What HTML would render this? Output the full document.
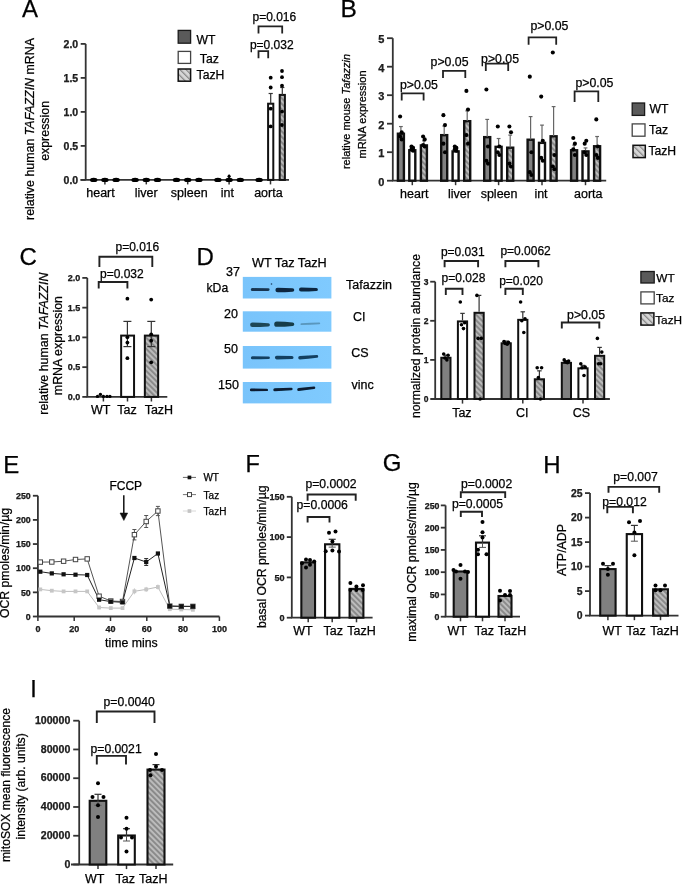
<!DOCTYPE html>
<html><head><meta charset="utf-8"><style>
html,body{margin:0;padding:0;background:#fff;}
svg{display:block;font-family:"Liberation Sans", sans-serif;filter:blur(0.3px);}
text{stroke:#000;stroke-width:0.25px;}
</style></head><body>
<svg width="685" height="884" viewBox="0 0 685 884">
<defs>
<pattern id="hatch" patternUnits="userSpaceOnUse" width="3.9" height="3.9" patternTransform="rotate(-45)">
<rect width="3.9" height="3.9" fill="#bdbdbd"/><rect width="2.0" height="3.9" fill="#8a8a8a"/>
</pattern>
<pattern id="hatchL" patternUnits="userSpaceOnUse" width="4.3" height="4.3" patternTransform="rotate(-45)">
<rect width="4.3" height="4.3" fill="#d6d6d6"/><rect width="1.3" height="4.3" fill="#8c8c8c"/>
</pattern>
<linearGradient id="blot" x1="0" y1="0" x2="1" y2="0">
<stop offset="0" stop-color="#79c4fb"/><stop offset="1" stop-color="#7fcafe"/>
</linearGradient>
<filter id="blur" x="-20%" y="-100%" width="140%" height="300%"><feGaussianBlur stdDeviation="0.7"/></filter>
</defs>
<rect width="685" height="884" fill="#fff"/>
<text x="22.00" y="17.30" font-size="24" text-anchor="start" fill="#000">A</text>
<text transform="translate(34.2 129) rotate(-90)" font-size="12.4" text-anchor="middle">relative human <tspan font-style="italic">TAFAZZIN</tspan> mRNA</text>
<text transform="translate(49 130.9) rotate(-90)" font-size="12.4" text-anchor="middle">expression</text>
<line x1="85.70" y1="43.90" x2="85.70" y2="179.90" stroke="#333" stroke-width="1.8"/>
<line x1="80.70" y1="43.90" x2="85.70" y2="43.90" stroke="#333" stroke-width="1.8"/>
<text x="78.20" y="47.70" font-size="10.5" font-weight="bold" text-anchor="end" fill="#222">2.0</text>
<line x1="80.70" y1="77.90" x2="85.70" y2="77.90" stroke="#333" stroke-width="1.8"/>
<text x="78.20" y="81.70" font-size="10.5" font-weight="bold" text-anchor="end" fill="#222">1.5</text>
<line x1="80.70" y1="111.90" x2="85.70" y2="111.90" stroke="#333" stroke-width="1.8"/>
<text x="78.20" y="115.70" font-size="10.5" font-weight="bold" text-anchor="end" fill="#222">1.0</text>
<line x1="80.70" y1="145.90" x2="85.70" y2="145.90" stroke="#333" stroke-width="1.8"/>
<text x="78.20" y="149.70" font-size="10.5" font-weight="bold" text-anchor="end" fill="#222">0.5</text>
<line x1="80.70" y1="179.90" x2="85.70" y2="179.90" stroke="#333" stroke-width="1.8"/>
<text x="78.20" y="183.70" font-size="10.5" font-weight="bold" text-anchor="end" fill="#222">0.0</text>
<line x1="80.50" y1="179.90" x2="289.00" y2="179.90" stroke="#333" stroke-width="1.8"/>
<line x1="104.90" y1="179.90" x2="104.90" y2="184.40" stroke="#333" stroke-width="1.5"/>
<text x="100.50" y="196.60" font-size="12.5" text-anchor="middle" fill="#000">heart</text>
<line x1="146.30" y1="179.90" x2="146.30" y2="184.40" stroke="#333" stroke-width="1.5"/>
<text x="146.20" y="196.60" font-size="12.5" text-anchor="middle" fill="#000">liver</text>
<line x1="187.70" y1="179.90" x2="187.70" y2="184.40" stroke="#333" stroke-width="1.5"/>
<text x="189.20" y="196.60" font-size="12.5" text-anchor="middle" fill="#000">spleen</text>
<line x1="229.10" y1="179.90" x2="229.10" y2="184.40" stroke="#333" stroke-width="1.5"/>
<text x="227.40" y="196.60" font-size="12.5" text-anchor="middle" fill="#000">int</text>
<line x1="270.50" y1="179.90" x2="270.50" y2="184.40" stroke="#333" stroke-width="1.5"/>
<text x="268.40" y="196.60" font-size="12.5" text-anchor="middle" fill="#000">aorta</text>
<ellipse cx="93.70" cy="179.90" rx="3.7" ry="2.2" fill="#000"/>
<ellipse cx="104.90" cy="179.90" rx="3.7" ry="2.2" fill="#000"/>
<ellipse cx="116.10" cy="179.90" rx="3.7" ry="2.2" fill="#000"/>
<ellipse cx="135.10" cy="179.90" rx="3.7" ry="2.2" fill="#000"/>
<ellipse cx="146.30" cy="179.90" rx="3.7" ry="2.2" fill="#000"/>
<ellipse cx="157.50" cy="179.90" rx="3.7" ry="2.2" fill="#000"/>
<ellipse cx="176.50" cy="179.90" rx="3.7" ry="2.2" fill="#000"/>
<ellipse cx="187.70" cy="179.90" rx="3.7" ry="2.2" fill="#000"/>
<ellipse cx="198.90" cy="179.90" rx="3.7" ry="2.2" fill="#000"/>
<ellipse cx="217.90" cy="179.90" rx="3.7" ry="2.2" fill="#000"/>
<ellipse cx="229.10" cy="179.90" rx="3.7" ry="2.2" fill="#000"/>
<ellipse cx="240.30" cy="179.90" rx="3.7" ry="2.2" fill="#000"/>
<ellipse cx="259.10" cy="179.90" rx="3.7" ry="2.2" fill="#000"/>
<circle cx="229.10" cy="176.30" r="1.6" fill="#000"/>
<line x1="229.10" y1="174.50" x2="229.10" y2="180.00" stroke="#000" stroke-width="1.2"/>
<rect x="268.10" y="103.70" width="5.20" height="76.20" fill="#ffffff" stroke="#111" stroke-width="2.0"/>
<rect x="279.70" y="94.90" width="5.20" height="85.00" fill="url(#hatch)" stroke="#111" stroke-width="2.0"/>
<line x1="270.70" y1="93.50" x2="270.70" y2="103.50" stroke="#333" stroke-width="1.2"/>
<line x1="268.60" y1="93.50" x2="272.80" y2="93.50" stroke="#333" stroke-width="1.2"/>
<line x1="282.30" y1="87.50" x2="282.30" y2="94.70" stroke="#333" stroke-width="1.2"/>
<line x1="280.20" y1="87.50" x2="284.40" y2="87.50" stroke="#333" stroke-width="1.2"/>
<circle cx="270.70" cy="77.70" r="1.9" fill="#000"/>
<circle cx="270.70" cy="87.50" r="1.9" fill="#000"/>
<circle cx="270.70" cy="108.70" r="1.9" fill="#000"/>
<circle cx="270.70" cy="126.40" r="1.9" fill="#000"/>
<circle cx="282.00" cy="71.00" r="1.9" fill="#000"/>
<circle cx="282.00" cy="77.20" r="1.9" fill="#000"/>
<circle cx="282.00" cy="85.70" r="1.9" fill="#000"/>
<circle cx="282.00" cy="111.60" r="1.9" fill="#000"/>
<circle cx="282.00" cy="125.00" r="1.9" fill="#000"/>
<path d="M258.50,58.30 L258.50,51.20 L268.20,51.20 L268.20,58.30" stroke="#222" stroke-width="1.8" fill="none"/>
<text x="249.90" y="48.90" font-size="12" text-anchor="start" fill="#000">p=0.032</text>
<path d="M258.50,33.60 L258.50,26.30 L282.20,26.30 L282.20,33.60" stroke="#222" stroke-width="1.8" fill="none"/>
<text x="252.50" y="20.50" font-size="12" text-anchor="start" fill="#000">p=0.016</text>
<rect x="178.20" y="30.40" width="12.40" height="12.80" fill="#5a5a5a" stroke="#1a1a1a" stroke-width="1.3"/>
<rect x="178.20" y="51.40" width="12.40" height="12.00" fill="#fff" stroke="#444" stroke-width="1.3"/>
<rect x="178.20" y="69.00" width="12.40" height="12.20" fill="url(#hatchL)" stroke="#111" stroke-width="1.5"/>
<text x="196.60" y="44.10" font-size="12.2" text-anchor="start" fill="#000">WT</text>
<text x="199.80" y="63.00" font-size="12.2" text-anchor="start" fill="#000">Taz</text>
<text x="196.60" y="78.80" font-size="12.2" text-anchor="start" fill="#000">TazH</text>
<text x="340.60" y="17.00" font-size="24.5" text-anchor="start" fill="#000">B</text>
<text transform="translate(350.3 111.5) rotate(-90)" font-size="11" text-anchor="middle">relative mouse <tspan font-style="italic">Tafazzin</tspan></text>
<text transform="translate(365.5 114.5) rotate(-90)" font-size="11" text-anchor="middle">mRNA expression</text>
<line x1="392.80" y1="38.20" x2="392.80" y2="180.70" stroke="#333" stroke-width="1.8"/>
<line x1="387.00" y1="38.20" x2="392.80" y2="38.20" stroke="#333" stroke-width="1.8"/>
<text x="384.40" y="43.10" font-size="11" font-weight="bold" text-anchor="end" fill="#222">5</text>
<line x1="387.00" y1="66.70" x2="392.80" y2="66.70" stroke="#333" stroke-width="1.8"/>
<text x="384.40" y="71.60" font-size="11" font-weight="bold" text-anchor="end" fill="#222">4</text>
<line x1="387.00" y1="95.20" x2="392.80" y2="95.20" stroke="#333" stroke-width="1.8"/>
<text x="384.40" y="100.10" font-size="11" font-weight="bold" text-anchor="end" fill="#222">3</text>
<line x1="387.00" y1="123.70" x2="392.80" y2="123.70" stroke="#333" stroke-width="1.8"/>
<text x="384.40" y="128.60" font-size="11" font-weight="bold" text-anchor="end" fill="#222">2</text>
<line x1="387.00" y1="152.20" x2="392.80" y2="152.20" stroke="#333" stroke-width="1.8"/>
<text x="384.40" y="157.10" font-size="11" font-weight="bold" text-anchor="end" fill="#222">1</text>
<line x1="387.00" y1="180.70" x2="392.80" y2="180.70" stroke="#333" stroke-width="1.8"/>
<text x="384.40" y="185.60" font-size="11" font-weight="bold" text-anchor="end" fill="#222">0</text>
<line x1="392.00" y1="180.70" x2="606.20" y2="180.70" stroke="#333" stroke-width="1.8"/>
<line x1="412.30" y1="180.70" x2="412.30" y2="185.20" stroke="#333" stroke-width="1.5"/>
<text x="414.30" y="198.00" font-size="12.5" text-anchor="middle" fill="#000">heart</text>
<line x1="455.60" y1="180.70" x2="455.60" y2="185.20" stroke="#333" stroke-width="1.5"/>
<text x="459.50" y="198.00" font-size="12.5" text-anchor="middle" fill="#000">liver</text>
<line x1="498.60" y1="180.70" x2="498.60" y2="185.20" stroke="#333" stroke-width="1.5"/>
<text x="499.10" y="198.00" font-size="12.5" text-anchor="middle" fill="#000">spleen</text>
<line x1="542.00" y1="180.70" x2="542.00" y2="185.20" stroke="#333" stroke-width="1.5"/>
<text x="541.00" y="198.00" font-size="12.5" text-anchor="middle" fill="#000">int</text>
<line x1="585.50" y1="180.70" x2="585.50" y2="185.20" stroke="#333" stroke-width="1.5"/>
<text x="588.30" y="198.00" font-size="12.5" text-anchor="middle" fill="#000">aorta</text>
<rect x="397.90" y="133.73" width="6.00" height="46.97" fill="#808080" stroke="#111" stroke-width="2.4"/>
<line x1="400.90" y1="126.55" x2="400.90" y2="133.53" stroke="#666" stroke-width="1.2"/>
<line x1="399.00" y1="126.55" x2="402.80" y2="126.55" stroke="#666" stroke-width="1.2"/>
<circle cx="400.10" cy="116.57" r="2.05" fill="#000"/>
<circle cx="401.70" cy="132.25" r="2.05" fill="#000"/>
<circle cx="400.10" cy="136.52" r="2.05" fill="#000"/>
<circle cx="401.70" cy="139.38" r="2.05" fill="#000"/>
<rect x="409.30" y="150.26" width="6.00" height="30.44" fill="#ffffff" stroke="#111" stroke-width="2.4"/>
<line x1="412.30" y1="147.35" x2="412.30" y2="150.06" stroke="#666" stroke-width="1.2"/>
<line x1="410.40" y1="147.35" x2="414.20" y2="147.35" stroke="#666" stroke-width="1.2"/>
<circle cx="411.50" cy="146.50" r="2.05" fill="#000"/>
<circle cx="413.10" cy="147.92" r="2.05" fill="#000"/>
<circle cx="411.50" cy="149.35" r="2.05" fill="#000"/>
<circle cx="413.10" cy="150.77" r="2.05" fill="#000"/>
<rect x="420.90" y="145.42" width="6.00" height="35.28" fill="url(#hatch)" stroke="#111" stroke-width="2.4"/>
<line x1="423.90" y1="140.80" x2="423.90" y2="145.22" stroke="#666" stroke-width="1.2"/>
<line x1="422.00" y1="140.80" x2="425.80" y2="140.80" stroke="#666" stroke-width="1.2"/>
<circle cx="423.10" cy="136.52" r="2.05" fill="#000"/>
<circle cx="424.70" cy="139.38" r="2.05" fill="#000"/>
<circle cx="423.10" cy="145.07" r="2.05" fill="#000"/>
<circle cx="424.70" cy="146.50" r="2.05" fill="#000"/>
<rect x="441.20" y="135.16" width="6.00" height="45.54" fill="#808080" stroke="#111" stroke-width="2.4"/>
<line x1="444.20" y1="125.98" x2="444.20" y2="134.96" stroke="#666" stroke-width="1.2"/>
<line x1="442.30" y1="125.98" x2="446.10" y2="125.98" stroke="#666" stroke-width="1.2"/>
<circle cx="443.40" cy="115.15" r="2.05" fill="#000"/>
<circle cx="445.00" cy="125.12" r="2.05" fill="#000"/>
<circle cx="443.40" cy="143.65" r="2.05" fill="#000"/>
<circle cx="445.00" cy="152.20" r="2.05" fill="#000"/>
<rect x="452.60" y="151.40" width="6.00" height="29.30" fill="#ffffff" stroke="#111" stroke-width="2.4"/>
<line x1="455.60" y1="148.78" x2="455.60" y2="151.20" stroke="#666" stroke-width="1.2"/>
<line x1="453.70" y1="148.78" x2="457.50" y2="148.78" stroke="#666" stroke-width="1.2"/>
<circle cx="454.80" cy="146.50" r="2.05" fill="#000"/>
<circle cx="456.40" cy="147.92" r="2.05" fill="#000"/>
<circle cx="454.80" cy="149.35" r="2.05" fill="#000"/>
<circle cx="456.40" cy="150.77" r="2.05" fill="#000"/>
<rect x="464.20" y="121.19" width="6.00" height="59.50" fill="url(#hatch)" stroke="#111" stroke-width="2.4"/>
<line x1="467.20" y1="110.87" x2="467.20" y2="120.99" stroke="#666" stroke-width="1.2"/>
<line x1="465.30" y1="110.87" x2="469.10" y2="110.87" stroke="#666" stroke-width="1.2"/>
<circle cx="466.40" cy="90.92" r="2.05" fill="#000"/>
<circle cx="468.00" cy="109.45" r="2.05" fill="#000"/>
<circle cx="466.40" cy="135.10" r="2.05" fill="#000"/>
<circle cx="468.00" cy="143.65" r="2.05" fill="#000"/>
<rect x="484.20" y="137.15" width="6.00" height="43.55" fill="#808080" stroke="#111" stroke-width="2.4"/>
<line x1="487.20" y1="119.42" x2="487.20" y2="136.95" stroke="#666" stroke-width="1.2"/>
<line x1="485.30" y1="119.42" x2="489.10" y2="119.42" stroke="#666" stroke-width="1.2"/>
<circle cx="486.40" cy="89.50" r="2.05" fill="#000"/>
<circle cx="488.00" cy="146.50" r="2.05" fill="#000"/>
<circle cx="486.40" cy="160.75" r="2.05" fill="#000"/>
<circle cx="488.00" cy="163.60" r="2.05" fill="#000"/>
<rect x="495.60" y="146.84" width="6.00" height="33.86" fill="#ffffff" stroke="#111" stroke-width="2.4"/>
<line x1="498.60" y1="138.52" x2="498.60" y2="146.64" stroke="#666" stroke-width="1.2"/>
<line x1="496.70" y1="138.52" x2="500.50" y2="138.52" stroke="#666" stroke-width="1.2"/>
<circle cx="497.80" cy="126.55" r="2.05" fill="#000"/>
<circle cx="499.40" cy="146.50" r="2.05" fill="#000"/>
<circle cx="497.80" cy="152.20" r="2.05" fill="#000"/>
<circle cx="499.40" cy="155.05" r="2.05" fill="#000"/>
<rect x="507.20" y="147.70" width="6.00" height="33.00" fill="url(#hatch)" stroke="#111" stroke-width="2.4"/>
<line x1="510.20" y1="135.10" x2="510.20" y2="147.50" stroke="#666" stroke-width="1.2"/>
<line x1="508.30" y1="135.10" x2="512.10" y2="135.10" stroke="#666" stroke-width="1.2"/>
<circle cx="509.40" cy="126.55" r="2.05" fill="#000"/>
<circle cx="511.00" cy="132.25" r="2.05" fill="#000"/>
<circle cx="509.40" cy="163.60" r="2.05" fill="#000"/>
<circle cx="511.00" cy="166.45" r="2.05" fill="#000"/>
<rect x="527.60" y="139.72" width="6.00" height="40.98" fill="#808080" stroke="#111" stroke-width="2.4"/>
<line x1="530.60" y1="116.57" x2="530.60" y2="139.52" stroke="#666" stroke-width="1.2"/>
<line x1="528.70" y1="116.57" x2="532.50" y2="116.57" stroke="#666" stroke-width="1.2"/>
<circle cx="529.80" cy="76.67" r="2.05" fill="#000"/>
<circle cx="531.40" cy="152.20" r="2.05" fill="#000"/>
<circle cx="529.80" cy="172.15" r="2.05" fill="#000"/>
<circle cx="531.40" cy="175.00" r="2.05" fill="#000"/>
<rect x="539.00" y="142.85" width="6.00" height="37.85" fill="#ffffff" stroke="#111" stroke-width="2.4"/>
<line x1="542.00" y1="125.12" x2="542.00" y2="142.65" stroke="#666" stroke-width="1.2"/>
<line x1="540.10" y1="125.12" x2="543.90" y2="125.12" stroke="#666" stroke-width="1.2"/>
<circle cx="541.20" cy="96.62" r="2.05" fill="#000"/>
<circle cx="542.80" cy="140.80" r="2.05" fill="#000"/>
<circle cx="541.20" cy="157.90" r="2.05" fill="#000"/>
<circle cx="542.80" cy="160.75" r="2.05" fill="#000"/>
<rect x="550.60" y="136.30" width="6.00" height="44.40" fill="url(#hatch)" stroke="#111" stroke-width="2.4"/>
<line x1="553.60" y1="106.60" x2="553.60" y2="136.10" stroke="#666" stroke-width="1.2"/>
<line x1="551.70" y1="106.60" x2="555.50" y2="106.60" stroke="#666" stroke-width="1.2"/>
<circle cx="552.80" cy="52.45" r="2.05" fill="#000"/>
<circle cx="554.40" cy="155.05" r="2.05" fill="#000"/>
<circle cx="552.80" cy="166.45" r="2.05" fill="#000"/>
<circle cx="554.40" cy="169.30" r="2.05" fill="#000"/>
<rect x="571.10" y="150.26" width="6.00" height="30.44" fill="#808080" stroke="#111" stroke-width="2.4"/>
<line x1="574.10" y1="145.07" x2="574.10" y2="150.06" stroke="#666" stroke-width="1.2"/>
<line x1="572.20" y1="145.07" x2="576.00" y2="145.07" stroke="#666" stroke-width="1.2"/>
<circle cx="573.30" cy="137.95" r="2.05" fill="#000"/>
<circle cx="574.90" cy="143.65" r="2.05" fill="#000"/>
<circle cx="573.30" cy="149.35" r="2.05" fill="#000"/>
<circle cx="574.90" cy="155.05" r="2.05" fill="#000"/>
<rect x="582.50" y="151.40" width="6.00" height="29.30" fill="#ffffff" stroke="#111" stroke-width="2.4"/>
<line x1="585.50" y1="147.92" x2="585.50" y2="151.20" stroke="#666" stroke-width="1.2"/>
<line x1="583.60" y1="147.92" x2="587.40" y2="147.92" stroke="#666" stroke-width="1.2"/>
<circle cx="584.70" cy="143.65" r="2.05" fill="#000"/>
<circle cx="586.30" cy="140.80" r="2.05" fill="#000"/>
<circle cx="584.70" cy="152.20" r="2.05" fill="#000"/>
<circle cx="586.30" cy="155.05" r="2.05" fill="#000"/>
<rect x="594.10" y="146.27" width="6.00" height="34.43" fill="url(#hatch)" stroke="#111" stroke-width="2.4"/>
<line x1="597.10" y1="136.52" x2="597.10" y2="146.07" stroke="#666" stroke-width="1.2"/>
<line x1="595.20" y1="136.52" x2="599.00" y2="136.52" stroke="#666" stroke-width="1.2"/>
<circle cx="596.30" cy="119.42" r="2.05" fill="#000"/>
<circle cx="597.90" cy="146.50" r="2.05" fill="#000"/>
<circle cx="596.30" cy="155.05" r="2.05" fill="#000"/>
<circle cx="597.90" cy="157.90" r="2.05" fill="#000"/>
<path d="M401.70,100.60 L401.70,93.30 L423.60,93.30 L423.60,100.60" stroke="#222" stroke-width="1.8" fill="none"/>
<text x="399.90" y="89.30" font-size="12.3" text-anchor="start" fill="#000">p&gt;0.05</text>
<path d="M443.00,78.00 L443.00,70.90 L465.30,70.90 L465.30,78.00" stroke="#222" stroke-width="1.8" fill="none"/>
<text x="430.60" y="65.70" font-size="12.3" text-anchor="start" fill="#000">p&gt;0.05</text>
<path d="M485.80,70.90 L485.80,63.60 L508.20,63.60 L508.20,70.90" stroke="#222" stroke-width="1.8" fill="none"/>
<text x="481.10" y="63.10" font-size="12.3" text-anchor="start" fill="#000">p&gt;0.05</text>
<path d="M528.60,44.70 L528.60,37.30 L556.20,37.30 L556.20,44.70" stroke="#222" stroke-width="1.8" fill="none"/>
<text x="530.50" y="29.70" font-size="12.3" text-anchor="start" fill="#000">p&gt;0.05</text>
<path d="M574.60,102.00 L574.60,91.40 L598.30,91.40 L598.30,102.00" stroke="#222" stroke-width="1.8" fill="none"/>
<text x="575.40" y="86.70" font-size="12.3" text-anchor="start" fill="#000">p&gt;0.05</text>
<rect x="632.20" y="103.00" width="12.40" height="12.40" fill="#5a5a5a" stroke="#1a1a1a" stroke-width="1.3"/>
<rect x="632.20" y="123.90" width="12.80" height="12.30" fill="#fff" stroke="#444" stroke-width="1.3"/>
<rect x="633.00" y="145.30" width="12.30" height="12.30" fill="url(#hatchL)" stroke="#111" stroke-width="1.5"/>
<text x="649.60" y="113.00" font-size="12.2" text-anchor="start" fill="#000">WT</text>
<text x="649.10" y="133.80" font-size="12.2" text-anchor="start" fill="#000">Taz</text>
<text x="648.40" y="154.60" font-size="12.2" text-anchor="start" fill="#000">TazH</text>
<text x="19.50" y="265.00" font-size="24" text-anchor="start" fill="#000">C</text>
<text transform="translate(48.3 343.7) rotate(-90)" font-size="12.4" text-anchor="middle">relative human <tspan font-style="italic">TAFAZZIN</tspan></text>
<text transform="translate(61.9 345.6) rotate(-90)" font-size="12.4" text-anchor="middle">mRNA expression</text>
<line x1="87.30" y1="277.90" x2="87.30" y2="396.90" stroke="#333" stroke-width="1.8"/>
<line x1="82.30" y1="277.90" x2="87.30" y2="277.90" stroke="#333" stroke-width="1.8"/>
<text x="80.30" y="281.20" font-size="9" font-weight="bold" text-anchor="end" fill="#222">2.0</text>
<line x1="82.30" y1="307.65" x2="87.30" y2="307.65" stroke="#333" stroke-width="1.8"/>
<text x="80.30" y="310.95" font-size="9" font-weight="bold" text-anchor="end" fill="#222">1.5</text>
<line x1="82.30" y1="337.40" x2="87.30" y2="337.40" stroke="#333" stroke-width="1.8"/>
<text x="80.30" y="340.70" font-size="9" font-weight="bold" text-anchor="end" fill="#222">1.0</text>
<line x1="82.30" y1="367.15" x2="87.30" y2="367.15" stroke="#333" stroke-width="1.8"/>
<text x="80.30" y="370.45" font-size="9" font-weight="bold" text-anchor="end" fill="#222">0.5</text>
<line x1="82.30" y1="396.90" x2="87.30" y2="396.90" stroke="#333" stroke-width="1.8"/>
<text x="80.30" y="400.20" font-size="9" font-weight="bold" text-anchor="end" fill="#222">0.0</text>
<line x1="86.40" y1="396.90" x2="167.30" y2="396.90" stroke="#333" stroke-width="1.8"/>
<line x1="103.40" y1="396.90" x2="103.40" y2="401.50" stroke="#333" stroke-width="1.5"/>
<line x1="127.50" y1="396.90" x2="127.50" y2="401.50" stroke="#333" stroke-width="1.5"/>
<line x1="151.40" y1="396.90" x2="151.40" y2="401.50" stroke="#333" stroke-width="1.5"/>
<text x="100.60" y="414.40" font-size="12.5" text-anchor="middle" fill="#000">WT</text>
<text x="127.00" y="414.40" font-size="12.5" text-anchor="middle" fill="#000">Taz</text>
<text x="158.90" y="414.40" font-size="12.5" text-anchor="middle" fill="#000">TazH</text>
<rect x="121.15" y="335.60" width="12.90" height="61.30" fill="#ffffff" stroke="#111" stroke-width="2.0"/>
<rect x="144.85" y="335.60" width="13.30" height="61.30" fill="url(#hatch)" stroke="#111" stroke-width="2.0"/>
<line x1="127.40" y1="321.40" x2="127.40" y2="346.60" stroke="#333" stroke-width="1.2"/>
<line x1="123.40" y1="321.40" x2="131.40" y2="321.40" stroke="#333" stroke-width="1.2"/>
<line x1="123.40" y1="346.60" x2="131.40" y2="346.60" stroke="#333" stroke-width="1.2"/>
<line x1="151.30" y1="321.40" x2="151.30" y2="346.60" stroke="#333" stroke-width="1.2"/>
<line x1="147.30" y1="321.40" x2="155.30" y2="321.40" stroke="#333" stroke-width="1.2"/>
<line x1="147.30" y1="346.60" x2="155.30" y2="346.60" stroke="#333" stroke-width="1.2"/>
<circle cx="127.40" cy="298.70" r="1.9" fill="#000"/>
<circle cx="127.40" cy="337.20" r="1.9" fill="#000"/>
<circle cx="127.40" cy="342.60" r="1.9" fill="#000"/>
<circle cx="127.40" cy="358.20" r="1.9" fill="#000"/>
<circle cx="151.20" cy="299.60" r="1.9" fill="#000"/>
<circle cx="151.20" cy="334.30" r="1.9" fill="#000"/>
<circle cx="151.20" cy="340.70" r="1.9" fill="#000"/>
<circle cx="151.20" cy="362.30" r="1.9" fill="#000"/>
<circle cx="97.50" cy="396.40" r="1.7" fill="#000"/>
<circle cx="100.40" cy="394.40" r="1.7" fill="#000"/>
<circle cx="103.40" cy="396.40" r="1.7" fill="#000"/>
<circle cx="107.00" cy="396.40" r="1.7" fill="#000"/>
<circle cx="109.90" cy="396.40" r="1.7" fill="#000"/>
<path d="M98.70,288.50 L98.70,282.00 L127.40,282.00 L127.40,288.50" stroke="#222" stroke-width="1.9" fill="none"/>
<text x="100.00" y="278.00" font-size="12" text-anchor="start" fill="#000">p=0.032</text>
<path d="M99.40,267.00 L99.40,256.80 L152.30,256.80 L152.30,267.00" stroke="#222" stroke-width="1.9" fill="none"/>
<text x="115.50" y="251.00" font-size="12" text-anchor="start" fill="#000">p=0.016</text>
<text x="196.40" y="265.00" font-size="24" text-anchor="start" fill="#000">D</text>
<text x="252.00" y="267.40" font-size="12.7" text-anchor="start" fill="#000">WT Taz TazH</text>
<text x="226.00" y="276.00" font-size="12.5" text-anchor="start" fill="#000">37</text>
<text x="206.50" y="292.20" font-size="12.2" text-anchor="start" fill="#000">kDa</text>
<text x="224.00" y="318.30" font-size="12.5" text-anchor="start" fill="#000">20</text>
<text x="224.00" y="352.60" font-size="12.5" text-anchor="start" fill="#000">50</text>
<text x="218.00" y="389.00" font-size="12.5" text-anchor="start" fill="#000">150</text>
<text x="346.00" y="288.90" font-size="12.5" text-anchor="start" fill="#000">Tafazzin</text>
<text x="353.00" y="321.00" font-size="12.5" text-anchor="start" fill="#000">CI</text>
<text x="351.30" y="357.20" font-size="12.5" text-anchor="start" fill="#000">CS</text>
<text x="351.60" y="389.00" font-size="12.5" text-anchor="start" fill="#000">vinc</text>
<rect x="242.8" y="276.9" width="88.6" height="21.6" fill="url(#blot)"/>
<rect x="242.8" y="311.3" width="88.6" height="20.4" fill="url(#blot)"/>
<rect x="242.8" y="346.0" width="88.6" height="22.6" fill="url(#blot)"/>
<rect x="242.8" y="382.0" width="88.6" height="21.4" fill="url(#blot)"/>
<path d="M252.30,288.10 Q260.30,288.10 268.30,288.30 A1.30,1.30 0 0 1 268.30,290.90 Q260.30,291.10 252.30,291.10 A1.50,1.50 0 0 1 252.30,288.10 Z" fill="#0b2840" opacity="0.9" filter="url(#blur)"/>
<path d="M277.70,287.70 Q285.10,287.70 292.50,288.20 A1.80,1.80 0 0 1 292.50,291.80 Q285.10,292.30 277.70,292.30 A2.30,2.30 0 0 1 277.70,287.70 Z" fill="#0b2840" opacity="1.0" filter="url(#blur)"/>
<path d="M301.00,287.60 Q308.70,287.60 316.40,288.10 A1.50,1.50 0 0 1 316.40,291.10 Q308.70,291.60 301.00,291.60 A2.00,2.00 0 0 1 301.00,287.60 Z" fill="#0b2840" opacity="1.0" filter="url(#blur)"/>
<circle cx="271.50" cy="284.00" r="0.8" fill="#1b3a5a"/>
<path d="M252.40,322.50 Q260.35,322.50 268.30,323.20 A1.60,1.60 0 0 1 268.30,326.40 Q260.35,327.10 252.40,327.10 A2.30,2.30 0 0 1 252.40,322.50 Z" fill="#183c48" opacity="0.92" filter="url(#blur)"/>
<path d="M276.80,321.60 Q284.70,321.60 292.60,322.50 A1.70,1.70 0 0 1 292.60,325.90 Q284.70,326.80 276.80,326.80 A2.60,2.60 0 0 1 276.80,321.60 Z" fill="#183c48" opacity="1.0" filter="url(#blur)"/>
<path d="M301.40,323.30 Q310.40,322.90 319.40,322.60 A0.80,0.80 0 0 1 319.40,324.20 Q310.40,324.70 301.40,325.10 A0.90,0.90 0 0 1 301.40,323.30 Z" fill="#183c48" opacity="0.35" filter="url(#blur)"/>
<path d="M252.40,356.30 Q260.50,356.30 268.60,356.50 A1.30,1.30 0 0 1 268.60,359.10 Q260.50,359.30 252.40,359.30 A1.50,1.50 0 0 1 252.40,356.30 Z" fill="#0f3858" opacity="0.95" filter="url(#blur)"/>
<path d="M276.70,355.80 Q284.35,355.80 292.00,356.10 A1.50,1.50 0 0 1 292.00,359.10 Q284.35,359.40 276.70,359.40 A1.80,1.80 0 0 1 276.70,355.80 Z" fill="#0f3858" opacity="0.95" filter="url(#blur)"/>
<path d="M299.90,356.10 Q308.40,355.40 316.90,355.10 A1.30,1.30 0 0 1 316.90,357.70 Q308.40,358.80 299.90,359.50 A1.70,1.70 0 0 1 299.90,356.10 Z" fill="#0f3858" opacity="0.95" filter="url(#blur)"/>
<path d="M251.25,388.55 Q259.02,388.55 266.80,388.70 A1.20,1.20 0 0 1 266.80,391.10 Q259.02,391.25 251.25,391.25 A1.35,1.35 0 0 1 251.25,388.55 Z" fill="#081c30" opacity="1.0" filter="url(#blur)"/>
<path d="M274.80,388.30 Q283.05,387.90 291.30,387.70 A1.30,1.30 0 0 1 291.30,390.30 Q283.05,390.90 274.80,391.30 A1.50,1.50 0 0 1 274.80,388.30 Z" fill="#081c30" opacity="1.0" filter="url(#blur)"/>
<path d="M298.70,388.10 Q306.35,387.20 314.00,386.50 A1.30,1.30 0 0 1 314.00,389.10 Q306.35,390.20 298.70,391.10 A1.50,1.50 0 0 1 298.70,388.10 Z" fill="#081c30" opacity="1.0" filter="url(#blur)"/>
<text transform="translate(420.3 336) rotate(-90)" font-size="12.2" text-anchor="middle">normalized protein abundance</text>
<line x1="435.20" y1="281.70" x2="435.20" y2="399.00" stroke="#333" stroke-width="1.8"/>
<line x1="430.20" y1="281.70" x2="435.20" y2="281.70" stroke="#333" stroke-width="1.8"/>
<text x="428.40" y="284.70" font-size="8.5" font-weight="bold" text-anchor="end" fill="#222">3</text>
<line x1="430.20" y1="320.80" x2="435.20" y2="320.80" stroke="#333" stroke-width="1.8"/>
<text x="428.40" y="323.80" font-size="8.5" font-weight="bold" text-anchor="end" fill="#222">2</text>
<line x1="430.20" y1="359.90" x2="435.20" y2="359.90" stroke="#333" stroke-width="1.8"/>
<text x="428.40" y="362.90" font-size="8.5" font-weight="bold" text-anchor="end" fill="#222">1</text>
<line x1="430.20" y1="399.00" x2="435.20" y2="399.00" stroke="#333" stroke-width="1.8"/>
<text x="428.40" y="402.00" font-size="8.5" font-weight="bold" text-anchor="end" fill="#222">0</text>
<line x1="431.00" y1="399.00" x2="609.90" y2="399.00" stroke="#333" stroke-width="1.8"/>
<line x1="462.50" y1="399.00" x2="462.50" y2="403.60" stroke="#333" stroke-width="1.5"/>
<line x1="522.80" y1="399.00" x2="522.80" y2="403.60" stroke="#333" stroke-width="1.5"/>
<line x1="583.00" y1="399.00" x2="583.00" y2="403.60" stroke="#333" stroke-width="1.5"/>
<text x="461.90" y="417.30" font-size="12.5" text-anchor="middle" fill="#000">Taz</text>
<text x="522.20" y="417.30" font-size="12.5" text-anchor="middle" fill="#000">CI</text>
<text x="581.50" y="417.40" font-size="12.5" text-anchor="middle" fill="#000">CS</text>
<rect x="441.30" y="357.77" width="9.20" height="41.23" fill="#808080" stroke="#111" stroke-width="2.0"/>
<line x1="445.90" y1="355.21" x2="445.90" y2="356.77" stroke="#333" stroke-width="1.2"/>
<line x1="443.65" y1="355.21" x2="448.15" y2="355.21" stroke="#333" stroke-width="1.2"/>
<circle cx="443.70" cy="354.04" r="1.8" fill="#000"/>
<circle cx="448.10" cy="355.21" r="1.8" fill="#000"/>
<circle cx="444.90" cy="357.94" r="1.8" fill="#000"/>
<circle cx="446.90" cy="359.90" r="1.8" fill="#000"/>
<rect x="457.90" y="321.41" width="9.20" height="77.59" fill="#ffffff" stroke="#111" stroke-width="2.0"/>
<line x1="462.50" y1="313.37" x2="462.50" y2="320.41" stroke="#333" stroke-width="1.2"/>
<line x1="460.25" y1="313.37" x2="464.75" y2="313.37" stroke="#333" stroke-width="1.2"/>
<circle cx="460.30" cy="302.03" r="1.8" fill="#000"/>
<circle cx="464.70" cy="322.75" r="1.8" fill="#000"/>
<circle cx="461.50" cy="324.71" r="1.8" fill="#000"/>
<circle cx="463.50" cy="328.62" r="1.8" fill="#000"/>
<rect x="474.50" y="312.81" width="9.20" height="86.19" fill="url(#hatch)" stroke="#111" stroke-width="2.0"/>
<line x1="479.10" y1="295.38" x2="479.10" y2="311.81" stroke="#333" stroke-width="1.2"/>
<line x1="476.85" y1="295.38" x2="481.35" y2="295.38" stroke="#333" stroke-width="1.2"/>
<circle cx="476.90" cy="295.38" r="1.8" fill="#000"/>
<circle cx="481.30" cy="338.39" r="1.8" fill="#000"/>
<circle cx="478.10" cy="338.39" r="1.8" fill="#000"/>
<circle cx="480.10" cy="399.00" r="1.8" fill="#000"/>
<rect x="501.60" y="343.31" width="9.20" height="55.69" fill="#808080" stroke="#111" stroke-width="2.0"/>
<line x1="506.20" y1="341.13" x2="506.20" y2="342.31" stroke="#333" stroke-width="1.2"/>
<line x1="503.95" y1="341.13" x2="508.45" y2="341.13" stroke="#333" stroke-width="1.2"/>
<circle cx="504.00" cy="341.52" r="1.8" fill="#000"/>
<circle cx="508.40" cy="342.31" r="1.8" fill="#000"/>
<circle cx="505.20" cy="343.48" r="1.8" fill="#000"/>
<circle cx="507.20" cy="344.26" r="1.8" fill="#000"/>
<rect x="518.20" y="319.85" width="9.20" height="79.15" fill="#ffffff" stroke="#111" stroke-width="2.0"/>
<line x1="522.80" y1="311.81" x2="522.80" y2="318.85" stroke="#333" stroke-width="1.2"/>
<line x1="520.55" y1="311.81" x2="525.05" y2="311.81" stroke="#333" stroke-width="1.2"/>
<circle cx="520.60" cy="302.03" r="1.8" fill="#000"/>
<circle cx="525.00" cy="318.85" r="1.8" fill="#000"/>
<circle cx="521.80" cy="320.80" r="1.8" fill="#000"/>
<circle cx="523.80" cy="332.53" r="1.8" fill="#000"/>
<rect x="534.80" y="379.28" width="9.20" height="19.72" fill="url(#hatch)" stroke="#111" stroke-width="2.0"/>
<line x1="539.40" y1="370.85" x2="539.40" y2="378.28" stroke="#333" stroke-width="1.2"/>
<line x1="537.15" y1="370.85" x2="541.65" y2="370.85" stroke="#333" stroke-width="1.2"/>
<circle cx="537.20" cy="367.72" r="1.8" fill="#000"/>
<circle cx="541.60" cy="367.72" r="1.8" fill="#000"/>
<circle cx="538.40" cy="377.50" r="1.8" fill="#000"/>
<circle cx="540.40" cy="399.00" r="1.8" fill="#000"/>
<rect x="561.80" y="362.86" width="9.20" height="36.14" fill="#808080" stroke="#111" stroke-width="2.0"/>
<line x1="566.40" y1="360.68" x2="566.40" y2="361.86" stroke="#333" stroke-width="1.2"/>
<line x1="564.15" y1="360.68" x2="568.65" y2="360.68" stroke="#333" stroke-width="1.2"/>
<circle cx="564.20" cy="359.90" r="1.8" fill="#000"/>
<circle cx="568.60" cy="361.07" r="1.8" fill="#000"/>
<circle cx="565.40" cy="361.86" r="1.8" fill="#000"/>
<circle cx="567.40" cy="362.64" r="1.8" fill="#000"/>
<rect x="578.40" y="368.33" width="9.20" height="30.67" fill="#ffffff" stroke="#111" stroke-width="2.0"/>
<line x1="583.00" y1="365.37" x2="583.00" y2="367.33" stroke="#333" stroke-width="1.2"/>
<line x1="580.75" y1="365.37" x2="585.25" y2="365.37" stroke="#333" stroke-width="1.2"/>
<circle cx="580.80" cy="363.81" r="1.8" fill="#000"/>
<circle cx="585.20" cy="366.94" r="1.8" fill="#000"/>
<circle cx="582.00" cy="367.72" r="1.8" fill="#000"/>
<circle cx="584.00" cy="375.54" r="1.8" fill="#000"/>
<rect x="595.00" y="355.82" width="9.20" height="43.18" fill="url(#hatch)" stroke="#111" stroke-width="2.0"/>
<line x1="599.60" y1="347.39" x2="599.60" y2="354.82" stroke="#333" stroke-width="1.2"/>
<line x1="597.35" y1="347.39" x2="601.85" y2="347.39" stroke="#333" stroke-width="1.2"/>
<circle cx="597.40" cy="338.39" r="1.8" fill="#000"/>
<circle cx="601.80" cy="352.08" r="1.8" fill="#000"/>
<circle cx="598.60" cy="363.81" r="1.8" fill="#000"/>
<circle cx="600.60" cy="363.81" r="1.8" fill="#000"/>
<path d="M444.60,267.20 L444.60,261.00 L478.10,261.00 L478.10,267.20" stroke="#222" stroke-width="1.9" fill="none"/>
<text x="440.90" y="256.10" font-size="12" text-anchor="start" fill="#000">p=0.031</text>
<path d="M445.80,295.00 L445.80,288.80 L462.50,288.80 L462.50,295.00" stroke="#222" stroke-width="1.9" fill="none"/>
<text x="441.60" y="282.10" font-size="12" text-anchor="start" fill="#000">p=0.028</text>
<path d="M505.40,267.20 L505.40,261.00 L538.40,261.00 L538.40,267.20" stroke="#222" stroke-width="1.9" fill="none"/>
<text x="500.40" y="254.80" font-size="12" text-anchor="start" fill="#000">p=0.0062</text>
<path d="M505.40,295.00 L505.40,288.80 L522.80,288.80 L522.80,295.00" stroke="#222" stroke-width="1.9" fill="none"/>
<text x="499.20" y="285.10" font-size="12" text-anchor="start" fill="#000">p=0.020</text>
<path d="M561.80,328.40 L561.80,322.50 L599.30,322.50 L599.30,328.40" stroke="#222" stroke-width="1.9" fill="none"/>
<text x="567.10" y="318.90" font-size="12.3" text-anchor="start" fill="#000">p&gt;0.05</text>
<rect x="640.90" y="271.50" width="13.30" height="11.50" fill="#5a5a5a" stroke="#1a1a1a" stroke-width="1.3"/>
<rect x="640.90" y="291.90" width="13.30" height="12.00" fill="#fff" stroke="#444" stroke-width="1.3"/>
<rect x="640.90" y="312.90" width="13.00" height="12.20" fill="url(#hatchL)" stroke="#111" stroke-width="1.5"/>
<text x="656.30" y="281.60" font-size="11.8" text-anchor="start" fill="#000">WT</text>
<text x="656.00" y="302.20" font-size="11.8" text-anchor="start" fill="#000">Taz</text>
<text x="655.20" y="323.50" font-size="11.8" text-anchor="start" fill="#000">TazH</text>
<text x="3.20" y="473.40" font-size="24" text-anchor="start" fill="#000">E</text>
<text transform="translate(9.2 563) rotate(-90)" font-size="12.2" text-anchor="middle">OCR pmoles/min/µg</text>
<line x1="37.90" y1="495.75" x2="37.90" y2="616.50" stroke="#333" stroke-width="1.8"/>
<line x1="32.90" y1="495.75" x2="37.90" y2="495.75" stroke="#333" stroke-width="1.8"/>
<text x="30.70" y="498.95" font-size="8.8" font-weight="bold" text-anchor="end" fill="#222">250</text>
<line x1="32.90" y1="519.90" x2="37.90" y2="519.90" stroke="#333" stroke-width="1.8"/>
<text x="30.70" y="523.10" font-size="8.8" font-weight="bold" text-anchor="end" fill="#222">200</text>
<line x1="32.90" y1="544.05" x2="37.90" y2="544.05" stroke="#333" stroke-width="1.8"/>
<text x="30.70" y="547.25" font-size="8.8" font-weight="bold" text-anchor="end" fill="#222">150</text>
<line x1="32.90" y1="568.20" x2="37.90" y2="568.20" stroke="#333" stroke-width="1.8"/>
<text x="30.70" y="571.40" font-size="8.8" font-weight="bold" text-anchor="end" fill="#222">100</text>
<line x1="32.90" y1="592.35" x2="37.90" y2="592.35" stroke="#333" stroke-width="1.8"/>
<text x="30.70" y="595.55" font-size="8.8" font-weight="bold" text-anchor="end" fill="#222">50</text>
<line x1="32.90" y1="616.50" x2="37.90" y2="616.50" stroke="#333" stroke-width="1.8"/>
<text x="30.70" y="619.70" font-size="8.8" font-weight="bold" text-anchor="end" fill="#222">0</text>
<line x1="37.90" y1="616.50" x2="219.40" y2="616.50" stroke="#333" stroke-width="1.8"/>
<line x1="37.90" y1="616.50" x2="37.90" y2="621.00" stroke="#333" stroke-width="1.5"/>
<text x="37.90" y="631.80" font-size="9" font-weight="bold" text-anchor="middle" fill="#222">0</text>
<line x1="74.20" y1="616.50" x2="74.20" y2="621.00" stroke="#333" stroke-width="1.5"/>
<text x="74.20" y="631.80" font-size="9" font-weight="bold" text-anchor="middle" fill="#222">20</text>
<line x1="110.50" y1="616.50" x2="110.50" y2="621.00" stroke="#333" stroke-width="1.5"/>
<text x="110.50" y="631.80" font-size="9" font-weight="bold" text-anchor="middle" fill="#222">40</text>
<line x1="146.80" y1="616.50" x2="146.80" y2="621.00" stroke="#333" stroke-width="1.5"/>
<text x="146.80" y="631.80" font-size="9" font-weight="bold" text-anchor="middle" fill="#222">60</text>
<line x1="183.10" y1="616.50" x2="183.10" y2="621.00" stroke="#333" stroke-width="1.5"/>
<text x="183.10" y="631.80" font-size="9" font-weight="bold" text-anchor="middle" fill="#222">80</text>
<line x1="219.40" y1="616.50" x2="219.40" y2="621.00" stroke="#333" stroke-width="1.5"/>
<text x="219.40" y="631.80" font-size="9" font-weight="bold" text-anchor="middle" fill="#222">100</text>
<text x="131.40" y="646.90" font-size="12.3" text-anchor="middle" fill="#000">time mins</text>
<text x="109.40" y="489.70" font-size="12" text-anchor="start" fill="#000">FCCP</text>
<line x1="123.80" y1="495.20" x2="123.80" y2="514.00" stroke="#111" stroke-width="1.5"/>
<path d="M120,513 L127.7,513 L123.85,520.5 Z" stroke="#111" stroke-width="0.5" fill="#111"/>
<path d="M40.30,589.40 L51.80,590.70 L63.60,591.40 L75.50,591.40 L87.20,591.40 L99.10,607.50 L110.80,608.10 L122.50,608.10 L134.40,591.30 L146.20,589.40 L157.90,587.00 L169.80,609.20 L181.30,609.50 L192.90,609.80" stroke="#bdbdbd" stroke-width="1.0" fill="none"/>
<path d="M40.30,562.10 L51.80,562.00 L63.60,561.20 L75.50,559.50 L87.20,558.90 L99.10,596.20 L110.80,601.00 L122.50,601.50 L134.40,534.70 L146.20,521.50 L157.90,511.00 L169.80,606.10 L181.30,606.40 L192.90,606.40" stroke="#555" stroke-width="1.0" fill="none"/>
<path d="M40.30,571.70 L51.80,573.40 L63.60,574.30 L75.50,574.70 L87.20,575.00 L99.10,599.70 L110.80,601.60 L122.50,602.30 L134.40,558.00 L146.20,562.00 L157.90,553.50 L169.80,606.10 L181.30,606.30 L192.90,606.40" stroke="#222" stroke-width="1.0" fill="none"/>
<line x1="134.40" y1="529.50" x2="134.40" y2="539.90" stroke="#555" stroke-width="1.0"/>
<line x1="132.40" y1="529.50" x2="136.40" y2="529.50" stroke="#555" stroke-width="1.0"/>
<line x1="132.40" y1="539.90" x2="136.40" y2="539.90" stroke="#555" stroke-width="1.0"/>
<line x1="146.20" y1="515.50" x2="146.20" y2="527.50" stroke="#555" stroke-width="1.0"/>
<line x1="144.20" y1="515.50" x2="148.20" y2="515.50" stroke="#555" stroke-width="1.0"/>
<line x1="144.20" y1="527.50" x2="148.20" y2="527.50" stroke="#555" stroke-width="1.0"/>
<line x1="157.90" y1="506.40" x2="157.90" y2="515.60" stroke="#555" stroke-width="1.0"/>
<line x1="155.90" y1="506.40" x2="159.90" y2="506.40" stroke="#555" stroke-width="1.0"/>
<line x1="155.90" y1="515.60" x2="159.90" y2="515.60" stroke="#555" stroke-width="1.0"/>
<line x1="146.20" y1="558.50" x2="146.20" y2="565.50" stroke="#333" stroke-width="1.0"/>
<line x1="144.20" y1="558.50" x2="148.20" y2="558.50" stroke="#333" stroke-width="1.0"/>
<line x1="144.20" y1="565.50" x2="148.20" y2="565.50" stroke="#333" stroke-width="1.0"/>
<line x1="99.10" y1="605.70" x2="99.10" y2="609.30" stroke="#ccc" stroke-width="1.0"/>
<line x1="134.40" y1="588.30" x2="134.40" y2="594.30" stroke="#ccc" stroke-width="1.0"/>
<line x1="146.20" y1="586.90" x2="146.20" y2="591.90" stroke="#ccc" stroke-width="1.0"/>
<line x1="157.90" y1="584.50" x2="157.90" y2="589.50" stroke="#ccc" stroke-width="1.0"/>
<rect x="38.40" y="587.50" width="3.8" height="3.8" fill="#c6c6c6"/>
<rect x="49.90" y="588.80" width="3.8" height="3.8" fill="#c6c6c6"/>
<rect x="61.70" y="589.50" width="3.8" height="3.8" fill="#c6c6c6"/>
<rect x="73.60" y="589.50" width="3.8" height="3.8" fill="#c6c6c6"/>
<rect x="85.30" y="589.50" width="3.8" height="3.8" fill="#c6c6c6"/>
<rect x="97.20" y="605.60" width="3.8" height="3.8" fill="#c6c6c6"/>
<rect x="108.90" y="606.20" width="3.8" height="3.8" fill="#c6c6c6"/>
<rect x="120.60" y="606.20" width="3.8" height="3.8" fill="#c6c6c6"/>
<rect x="132.50" y="589.40" width="3.8" height="3.8" fill="#c6c6c6"/>
<rect x="144.30" y="587.50" width="3.8" height="3.8" fill="#c6c6c6"/>
<rect x="156.00" y="585.10" width="3.8" height="3.8" fill="#c6c6c6"/>
<rect x="167.90" y="607.30" width="3.8" height="3.8" fill="#c6c6c6"/>
<rect x="179.40" y="607.60" width="3.8" height="3.8" fill="#c6c6c6"/>
<rect x="191.00" y="607.90" width="3.8" height="3.8" fill="#c6c6c6"/>
<rect x="38.10" y="559.90" width="4.4" height="4.4" fill="#fff" stroke="#444" stroke-width="1.0"/>
<rect x="49.60" y="559.80" width="4.4" height="4.4" fill="#fff" stroke="#444" stroke-width="1.0"/>
<rect x="61.40" y="559.00" width="4.4" height="4.4" fill="#fff" stroke="#444" stroke-width="1.0"/>
<rect x="73.30" y="557.30" width="4.4" height="4.4" fill="#fff" stroke="#444" stroke-width="1.0"/>
<rect x="85.00" y="556.70" width="4.4" height="4.4" fill="#fff" stroke="#444" stroke-width="1.0"/>
<rect x="96.90" y="594.00" width="4.4" height="4.4" fill="#fff" stroke="#444" stroke-width="1.0"/>
<rect x="108.60" y="598.80" width="4.4" height="4.4" fill="#fff" stroke="#444" stroke-width="1.0"/>
<rect x="120.30" y="599.30" width="4.4" height="4.4" fill="#fff" stroke="#444" stroke-width="1.0"/>
<rect x="132.20" y="532.50" width="4.4" height="4.4" fill="#fff" stroke="#444" stroke-width="1.0"/>
<rect x="144.00" y="519.30" width="4.4" height="4.4" fill="#fff" stroke="#444" stroke-width="1.0"/>
<rect x="155.70" y="508.80" width="4.4" height="4.4" fill="#fff" stroke="#444" stroke-width="1.0"/>
<rect x="167.60" y="603.90" width="4.4" height="4.4" fill="#fff" stroke="#444" stroke-width="1.0"/>
<rect x="179.10" y="604.20" width="4.4" height="4.4" fill="#fff" stroke="#444" stroke-width="1.0"/>
<rect x="190.70" y="604.20" width="4.4" height="4.4" fill="#fff" stroke="#444" stroke-width="1.0"/>
<rect x="38.20" y="569.60" width="4.2" height="4.2" fill="#111"/>
<rect x="49.70" y="571.30" width="4.2" height="4.2" fill="#111"/>
<rect x="61.50" y="572.20" width="4.2" height="4.2" fill="#111"/>
<rect x="73.40" y="572.60" width="4.2" height="4.2" fill="#111"/>
<rect x="85.10" y="572.90" width="4.2" height="4.2" fill="#111"/>
<rect x="97.00" y="597.60" width="4.2" height="4.2" fill="#111"/>
<rect x="108.70" y="599.50" width="4.2" height="4.2" fill="#111"/>
<rect x="120.40" y="600.20" width="4.2" height="4.2" fill="#111"/>
<rect x="132.30" y="555.90" width="4.2" height="4.2" fill="#111"/>
<rect x="144.10" y="559.90" width="4.2" height="4.2" fill="#111"/>
<rect x="155.80" y="551.40" width="4.2" height="4.2" fill="#111"/>
<rect x="167.70" y="604.00" width="4.2" height="4.2" fill="#111"/>
<rect x="179.20" y="604.20" width="4.2" height="4.2" fill="#111"/>
<rect x="190.80" y="604.30" width="4.2" height="4.2" fill="#111"/>
<line x1="182.90" y1="477.40" x2="196.00" y2="477.40" stroke="#666" stroke-width="1.0"/>
<rect x="187.6" y="475.6" width="3.7" height="3.7" fill="#111"/>
<line x1="182.90" y1="494.60" x2="196.00" y2="494.60" stroke="#777" stroke-width="1.0"/>
<rect x="187.5" y="492.6" width="4.0" height="4.0" fill="#fff" stroke="#444" stroke-width="1"/>
<line x1="182.90" y1="511.00" x2="196.00" y2="511.00" stroke="#d8d8d8" stroke-width="1.0"/>
<rect x="187.6" y="509.2" width="3.7" height="3.7" fill="#c4c4c4"/>
<text x="203.40" y="480.90" font-size="10" text-anchor="start" fill="#000">WT</text>
<text x="203.60" y="498.70" font-size="10" text-anchor="start" fill="#000">Taz</text>
<text x="203.60" y="514.90" font-size="10" text-anchor="start" fill="#000">TazH</text>
<text x="245.60" y="471.50" font-size="23.5" text-anchor="start" fill="#000">F</text>
<text transform="translate(265.8 556.8) rotate(-90)" font-size="12.2" text-anchor="middle">basal OCR pmoles/min/µg</text>
<line x1="291.80" y1="496.80" x2="291.80" y2="617.70" stroke="#333" stroke-width="1.8"/>
<line x1="286.80" y1="496.80" x2="291.80" y2="496.80" stroke="#333" stroke-width="1.8"/>
<text x="284.60" y="500.10" font-size="9.1" font-weight="bold" text-anchor="end" fill="#222">150</text>
<line x1="286.80" y1="537.10" x2="291.80" y2="537.10" stroke="#333" stroke-width="1.8"/>
<text x="284.60" y="540.40" font-size="9.1" font-weight="bold" text-anchor="end" fill="#222">100</text>
<line x1="286.80" y1="577.40" x2="291.80" y2="577.40" stroke="#333" stroke-width="1.8"/>
<text x="284.60" y="580.70" font-size="9.1" font-weight="bold" text-anchor="end" fill="#222">50</text>
<line x1="286.80" y1="617.70" x2="291.80" y2="617.70" stroke="#333" stroke-width="1.8"/>
<text x="284.60" y="621.00" font-size="9.1" font-weight="bold" text-anchor="end" fill="#222">0</text>
<line x1="290.90" y1="617.70" x2="372.60" y2="617.70" stroke="#333" stroke-width="1.8"/>
<line x1="308.20" y1="617.70" x2="308.20" y2="622.30" stroke="#333" stroke-width="1.5"/>
<line x1="332.20" y1="617.70" x2="332.20" y2="622.30" stroke="#333" stroke-width="1.5"/>
<line x1="356.50" y1="617.70" x2="356.50" y2="622.30" stroke="#333" stroke-width="1.5"/>
<rect x="301.35" y="562.40" width="13.70" height="55.30" fill="#808080" stroke="#111" stroke-width="2.1"/>
<rect x="325.05" y="544.30" width="14.30" height="73.40" fill="#ffffff" stroke="#111" stroke-width="2.1"/>
<rect x="349.60" y="588.90" width="13.80" height="28.80" fill="url(#hatch)" stroke="#111" stroke-width="2.1"/>
<line x1="332.20" y1="539.30" x2="332.20" y2="544.30" stroke="#333" stroke-width="1.2"/>
<line x1="328.70" y1="539.30" x2="335.70" y2="539.30" stroke="#333" stroke-width="1.2"/>
<line x1="332.20" y1="544.30" x2="332.20" y2="547.10" stroke="#555" stroke-width="1.0"/>
<line x1="328.70" y1="547.10" x2="335.70" y2="547.10" stroke="#555" stroke-width="1.0"/>
<circle cx="302.00" cy="563.20" r="2.0" fill="#000"/>
<circle cx="306.00" cy="559.60" r="2.0" fill="#000"/>
<circle cx="310.00" cy="564.80" r="2.0" fill="#000"/>
<circle cx="306.00" cy="567.50" r="2.0" fill="#000"/>
<circle cx="314.20" cy="561.40" r="2.0" fill="#000"/>
<circle cx="310.00" cy="560.00" r="2.0" fill="#000"/>
<circle cx="329.00" cy="532.80" r="2.0" fill="#000"/>
<circle cx="335.50" cy="531.60" r="2.0" fill="#000"/>
<circle cx="332.40" cy="541.50" r="2.0" fill="#000"/>
<circle cx="332.40" cy="550.50" r="2.0" fill="#000"/>
<circle cx="325.70" cy="551.20" r="2.0" fill="#000"/>
<circle cx="339.00" cy="551.50" r="2.0" fill="#000"/>
<circle cx="350.40" cy="583.00" r="2.0" fill="#000"/>
<circle cx="356.40" cy="586.40" r="2.0" fill="#000"/>
<circle cx="363.00" cy="585.30" r="2.0" fill="#000"/>
<circle cx="356.40" cy="590.00" r="2.0" fill="#000"/>
<circle cx="350.40" cy="590.00" r="2.0" fill="#000"/>
<circle cx="362.60" cy="590.00" r="2.0" fill="#000"/>
<text x="303.00" y="635.20" font-size="12.5" text-anchor="middle" fill="#000">WT</text>
<text x="333.20" y="635.20" font-size="12.5" text-anchor="middle" fill="#000">Taz</text>
<text x="361.60" y="635.20" font-size="12.5" text-anchor="middle" fill="#000">TazH</text>
<path d="M307.60,500.70 L307.60,494.50 L355.70,494.50 L355.70,500.70" stroke="#222" stroke-width="1.9" fill="none"/>
<text x="305.40" y="487.50" font-size="12.2" text-anchor="start" fill="#000">p=0.0002</text>
<path d="M307.60,522.60 L307.60,517.00 L329.50,517.00 L329.50,522.60" stroke="#222" stroke-width="1.9" fill="none"/>
<text x="296.60" y="508.90" font-size="12.2" text-anchor="start" fill="#000">p=0.0006</text>
<text x="382.80" y="471.10" font-size="24" text-anchor="start" fill="#000">G</text>
<text transform="translate(415.9 562) rotate(-90)" font-size="12.26" text-anchor="middle">maximal OCR pmoles/min/µg</text>
<line x1="445.60" y1="505.40" x2="445.60" y2="616.70" stroke="#333" stroke-width="1.8"/>
<line x1="440.80" y1="505.40" x2="445.60" y2="505.40" stroke="#333" stroke-width="1.8"/>
<text x="439.50" y="508.60" font-size="8.8" font-weight="bold" text-anchor="end" fill="#222">250</text>
<line x1="440.80" y1="527.66" x2="445.60" y2="527.66" stroke="#333" stroke-width="1.8"/>
<text x="439.50" y="530.86" font-size="8.8" font-weight="bold" text-anchor="end" fill="#222">200</text>
<line x1="440.80" y1="549.92" x2="445.60" y2="549.92" stroke="#333" stroke-width="1.8"/>
<text x="439.50" y="553.12" font-size="8.8" font-weight="bold" text-anchor="end" fill="#222">150</text>
<line x1="440.80" y1="572.18" x2="445.60" y2="572.18" stroke="#333" stroke-width="1.8"/>
<text x="439.50" y="575.38" font-size="8.8" font-weight="bold" text-anchor="end" fill="#222">100</text>
<line x1="440.80" y1="594.44" x2="445.60" y2="594.44" stroke="#333" stroke-width="1.8"/>
<text x="439.50" y="597.64" font-size="8.8" font-weight="bold" text-anchor="end" fill="#222">50</text>
<line x1="440.80" y1="616.70" x2="445.60" y2="616.70" stroke="#333" stroke-width="1.8"/>
<text x="439.50" y="619.90" font-size="8.8" font-weight="bold" text-anchor="end" fill="#222">0</text>
<line x1="444.70" y1="616.70" x2="520.00" y2="616.70" stroke="#333" stroke-width="1.8"/>
<line x1="460.50" y1="616.70" x2="460.50" y2="621.30" stroke="#333" stroke-width="1.5"/>
<line x1="482.50" y1="616.70" x2="482.50" y2="621.30" stroke="#333" stroke-width="1.5"/>
<line x1="505.00" y1="616.70" x2="505.00" y2="621.30" stroke="#333" stroke-width="1.5"/>
<rect x="453.70" y="571.50" width="13.60" height="45.20" fill="#808080" stroke="#111" stroke-width="2.1"/>
<rect x="476.00" y="542.60" width="13.00" height="74.10" fill="#ffffff" stroke="#111" stroke-width="2.1"/>
<rect x="498.50" y="596.00" width="13.00" height="20.70" fill="url(#hatch)" stroke="#111" stroke-width="2.1"/>
<line x1="482.50" y1="535.80" x2="482.50" y2="542.60" stroke="#333" stroke-width="1.2"/>
<line x1="479.00" y1="535.80" x2="486.00" y2="535.80" stroke="#333" stroke-width="1.2"/>
<line x1="482.50" y1="542.60" x2="482.50" y2="547.40" stroke="#555" stroke-width="1.0"/>
<line x1="479.00" y1="547.40" x2="486.00" y2="547.40" stroke="#555" stroke-width="1.0"/>
<circle cx="460.50" cy="565.10" r="2.0" fill="#000"/>
<circle cx="456.00" cy="571.50" r="2.0" fill="#000"/>
<circle cx="465.00" cy="571.50" r="2.0" fill="#000"/>
<circle cx="460.50" cy="578.70" r="2.0" fill="#000"/>
<circle cx="468.00" cy="572.00" r="2.0" fill="#000"/>
<circle cx="453.50" cy="570.00" r="2.0" fill="#000"/>
<circle cx="482.50" cy="522.00" r="2.0" fill="#000"/>
<circle cx="482.50" cy="532.20" r="2.0" fill="#000"/>
<circle cx="482.50" cy="537.60" r="2.0" fill="#000"/>
<circle cx="478.00" cy="549.70" r="2.0" fill="#000"/>
<circle cx="478.00" cy="554.20" r="2.0" fill="#000"/>
<circle cx="486.50" cy="554.20" r="2.0" fill="#000"/>
<circle cx="500.00" cy="590.80" r="2.0" fill="#000"/>
<circle cx="510.00" cy="591.00" r="2.0" fill="#000"/>
<circle cx="505.00" cy="595.00" r="2.0" fill="#000"/>
<circle cx="500.00" cy="600.40" r="2.0" fill="#000"/>
<circle cx="510.00" cy="595.00" r="2.0" fill="#000"/>
<text x="457.20" y="635.40" font-size="12.5" text-anchor="middle" fill="#000">WT</text>
<text x="484.20" y="635.40" font-size="12.5" text-anchor="middle" fill="#000">Taz</text>
<text x="512.10" y="635.40" font-size="12.5" text-anchor="middle" fill="#000">TazH</text>
<path d="M460.80,498.10 L460.80,492.30 L505.20,492.30 L505.20,498.10" stroke="#222" stroke-width="1.9" fill="none"/>
<text x="461.00" y="488.10" font-size="12.2" text-anchor="start" fill="#000">p=0.0002</text>
<path d="M460.80,517.10 L460.80,511.70 L482.00,511.70 L482.00,517.10" stroke="#222" stroke-width="1.9" fill="none"/>
<text x="451.90" y="507.50" font-size="12.2" text-anchor="start" fill="#000">p=0.0005</text>
<text x="543.20" y="473.10" font-size="24" text-anchor="start" fill="#000">H</text>
<text transform="translate(566.3 550) rotate(-90)" font-size="12.4" text-anchor="middle">ATP/ADP</text>
<line x1="590.00" y1="493.10" x2="590.00" y2="615.60" stroke="#333" stroke-width="1.8"/>
<line x1="585.00" y1="493.10" x2="590.00" y2="493.10" stroke="#333" stroke-width="1.8"/>
<text x="582.60" y="496.80" font-size="10.4" font-weight="bold" text-anchor="end" fill="#222">25</text>
<line x1="585.00" y1="517.60" x2="590.00" y2="517.60" stroke="#333" stroke-width="1.8"/>
<text x="582.60" y="521.30" font-size="10.4" font-weight="bold" text-anchor="end" fill="#222">20</text>
<line x1="585.00" y1="542.10" x2="590.00" y2="542.10" stroke="#333" stroke-width="1.8"/>
<text x="582.60" y="545.80" font-size="10.4" font-weight="bold" text-anchor="end" fill="#222">15</text>
<line x1="585.00" y1="566.60" x2="590.00" y2="566.60" stroke="#333" stroke-width="1.8"/>
<text x="582.60" y="570.30" font-size="10.4" font-weight="bold" text-anchor="end" fill="#222">10</text>
<line x1="585.00" y1="591.10" x2="590.00" y2="591.10" stroke="#333" stroke-width="1.8"/>
<text x="582.60" y="594.80" font-size="10.4" font-weight="bold" text-anchor="end" fill="#222">5</text>
<line x1="585.00" y1="615.60" x2="590.00" y2="615.60" stroke="#333" stroke-width="1.8"/>
<text x="582.60" y="619.30" font-size="10.4" font-weight="bold" text-anchor="end" fill="#222">0</text>
<line x1="589.10" y1="615.60" x2="678.50" y2="615.60" stroke="#333" stroke-width="1.8"/>
<line x1="607.90" y1="615.60" x2="607.90" y2="620.20" stroke="#333" stroke-width="1.5"/>
<line x1="634.40" y1="615.60" x2="634.40" y2="620.20" stroke="#333" stroke-width="1.5"/>
<line x1="660.50" y1="615.60" x2="660.50" y2="620.20" stroke="#333" stroke-width="1.5"/>
<rect x="600.20" y="569.10" width="15.40" height="46.50" fill="#808080" stroke="#111" stroke-width="2.1"/>
<rect x="626.75" y="534.10" width="15.30" height="81.50" fill="#ffffff" stroke="#111" stroke-width="2.1"/>
<rect x="653.10" y="589.30" width="14.80" height="26.30" fill="url(#hatch)" stroke="#111" stroke-width="2.1"/>
<line x1="607.90" y1="565.60" x2="607.90" y2="569.10" stroke="#333" stroke-width="1.2"/>
<line x1="604.40" y1="565.60" x2="611.40" y2="565.60" stroke="#333" stroke-width="1.2"/>
<line x1="634.40" y1="525.40" x2="634.40" y2="534.10" stroke="#333" stroke-width="1.2"/>
<line x1="630.90" y1="525.40" x2="637.90" y2="525.40" stroke="#333" stroke-width="1.2"/>
<line x1="634.40" y1="534.10" x2="634.40" y2="541.20" stroke="#555" stroke-width="1.0"/>
<line x1="630.90" y1="541.20" x2="637.90" y2="541.20" stroke="#555" stroke-width="1.0"/>
<circle cx="603.00" cy="563.80" r="2.0" fill="#000"/>
<circle cx="613.00" cy="563.80" r="2.0" fill="#000"/>
<circle cx="607.90" cy="569.00" r="2.0" fill="#000"/>
<circle cx="607.90" cy="574.80" r="2.0" fill="#000"/>
<circle cx="629.00" cy="522.30" r="2.0" fill="#000"/>
<circle cx="640.00" cy="521.00" r="2.0" fill="#000"/>
<circle cx="634.40" cy="532.50" r="2.0" fill="#000"/>
<circle cx="634.40" cy="555.20" r="2.0" fill="#000"/>
<circle cx="655.50" cy="585.40" r="2.0" fill="#000"/>
<circle cx="665.00" cy="585.40" r="2.0" fill="#000"/>
<circle cx="660.50" cy="590.20" r="2.0" fill="#000"/>
<circle cx="655.50" cy="590.20" r="2.0" fill="#000"/>
<text x="612.20" y="635.00" font-size="12.5" text-anchor="middle" fill="#000">WT</text>
<text x="636.10" y="635.00" font-size="12.5" text-anchor="middle" fill="#000">Taz</text>
<text x="664.60" y="635.00" font-size="12.5" text-anchor="middle" fill="#000">TazH</text>
<path d="M607.30,513.30 L607.30,506.90 L632.90,506.90 L632.90,513.30" stroke="#222" stroke-width="1.9" fill="none"/>
<text x="602.30" y="505.60" font-size="12.2" text-anchor="start" fill="#000">p=0.012</text>
<path d="M608.50,492.70 L608.50,486.90 L659.20,486.90 L659.20,492.70" stroke="#222" stroke-width="1.9" fill="none"/>
<text x="613.30" y="480.60" font-size="12.2" text-anchor="start" fill="#000">p=0.007</text>
<text x="30.20" y="696.50" font-size="23.3" text-anchor="start" fill="#000">I</text>
<text transform="translate(9.9 785) rotate(-90)" font-size="12.1" text-anchor="middle">mitoSOX mean fluorescence</text>
<text transform="translate(25.2 786.4) rotate(-90)" font-size="12.2" text-anchor="middle">intensity (arb. units)</text>
<line x1="79.20" y1="720.70" x2="79.20" y2="864.50" stroke="#333" stroke-width="1.8"/>
<line x1="73.20" y1="720.70" x2="79.20" y2="720.70" stroke="#333" stroke-width="1.8"/>
<text x="70.30" y="723.90" font-size="10.6" font-weight="bold" text-anchor="end" fill="#222">100000</text>
<line x1="73.20" y1="749.46" x2="79.20" y2="749.46" stroke="#333" stroke-width="1.8"/>
<text x="70.30" y="752.66" font-size="10.6" font-weight="bold" text-anchor="end" fill="#222">80000</text>
<line x1="73.20" y1="778.22" x2="79.20" y2="778.22" stroke="#333" stroke-width="1.8"/>
<text x="70.30" y="781.42" font-size="10.6" font-weight="bold" text-anchor="end" fill="#222">60000</text>
<line x1="73.20" y1="806.98" x2="79.20" y2="806.98" stroke="#333" stroke-width="1.8"/>
<text x="70.30" y="810.18" font-size="10.6" font-weight="bold" text-anchor="end" fill="#222">40000</text>
<line x1="73.20" y1="835.74" x2="79.20" y2="835.74" stroke="#333" stroke-width="1.8"/>
<text x="70.30" y="838.94" font-size="10.6" font-weight="bold" text-anchor="end" fill="#222">20000</text>
<line x1="73.20" y1="864.50" x2="79.20" y2="864.50" stroke="#333" stroke-width="1.8"/>
<text x="70.30" y="867.70" font-size="10.6" font-weight="bold" text-anchor="end" fill="#222">0</text>
<line x1="71.00" y1="864.50" x2="173.20" y2="864.50" stroke="#333" stroke-width="1.8"/>
<line x1="98.00" y1="864.50" x2="98.00" y2="869.10" stroke="#333" stroke-width="1.5"/>
<line x1="126.50" y1="864.50" x2="126.50" y2="869.10" stroke="#333" stroke-width="1.5"/>
<line x1="156.00" y1="864.50" x2="156.00" y2="869.10" stroke="#333" stroke-width="1.5"/>
<rect x="89.70" y="800.80" width="16.60" height="63.70" fill="#808080" stroke="#111" stroke-width="2.1"/>
<rect x="118.20" y="835.50" width="16.60" height="29.00" fill="#ffffff" stroke="#111" stroke-width="2.1"/>
<rect x="147.50" y="769.60" width="17.00" height="94.90" fill="url(#hatch)" stroke="#111" stroke-width="2.1"/>
<line x1="98.00" y1="794.30" x2="98.00" y2="800.80" stroke="#333" stroke-width="1.2"/>
<line x1="94.50" y1="794.30" x2="101.50" y2="794.30" stroke="#333" stroke-width="1.2"/>
<line x1="98.00" y1="800.80" x2="98.00" y2="805.30" stroke="#555" stroke-width="1.0"/>
<line x1="94.50" y1="805.30" x2="101.50" y2="805.30" stroke="#555" stroke-width="1.0"/>
<line x1="126.50" y1="828.70" x2="126.50" y2="835.50" stroke="#333" stroke-width="1.2"/>
<line x1="123.00" y1="828.70" x2="130.00" y2="828.70" stroke="#333" stroke-width="1.2"/>
<line x1="126.50" y1="835.50" x2="126.50" y2="841.00" stroke="#555" stroke-width="1.0"/>
<line x1="123.00" y1="841.00" x2="130.00" y2="841.00" stroke="#555" stroke-width="1.0"/>
<line x1="156.00" y1="764.60" x2="156.00" y2="769.60" stroke="#333" stroke-width="1.2"/>
<line x1="152.50" y1="764.60" x2="159.50" y2="764.60" stroke="#333" stroke-width="1.2"/>
<circle cx="98.00" cy="783.30" r="2.0" fill="#000"/>
<circle cx="92.50" cy="797.10" r="2.0" fill="#000"/>
<circle cx="103.50" cy="797.10" r="2.0" fill="#000"/>
<circle cx="98.00" cy="805.30" r="2.0" fill="#000"/>
<circle cx="98.00" cy="816.90" r="2.0" fill="#000"/>
<circle cx="126.50" cy="817.80" r="2.0" fill="#000"/>
<circle cx="126.50" cy="828.70" r="2.0" fill="#000"/>
<circle cx="121.00" cy="837.50" r="2.0" fill="#000"/>
<circle cx="132.00" cy="837.50" r="2.0" fill="#000"/>
<circle cx="126.50" cy="851.40" r="2.0" fill="#000"/>
<circle cx="156.00" cy="754.10" r="2.0" fill="#000"/>
<circle cx="156.00" cy="766.40" r="2.0" fill="#000"/>
<circle cx="150.00" cy="770.10" r="2.0" fill="#000"/>
<circle cx="162.00" cy="770.10" r="2.0" fill="#000"/>
<circle cx="150.50" cy="775.20" r="2.0" fill="#000"/>
<text x="94.70" y="882.60" font-size="12.5" text-anchor="middle" fill="#000">WT</text>
<text x="125.20" y="882.60" font-size="12.5" text-anchor="middle" fill="#000">Taz</text>
<text x="153.20" y="882.60" font-size="12.5" text-anchor="middle" fill="#000">TazH</text>
<path d="M96.80,764.60 L96.80,755.90 L126.00,755.90 L126.00,764.60" stroke="#222" stroke-width="1.9" fill="none"/>
<text x="90.50" y="752.60" font-size="12.2" text-anchor="start" fill="#000">p=0.0021</text>
<path d="M96.80,722.90 L96.80,711.50 L154.50,711.50 L154.50,722.90" stroke="#222" stroke-width="1.9" fill="none"/>
<text x="103.60" y="705.80" font-size="12.2" text-anchor="start" fill="#000">p=0.0040</text>
</svg>
</body></html>
